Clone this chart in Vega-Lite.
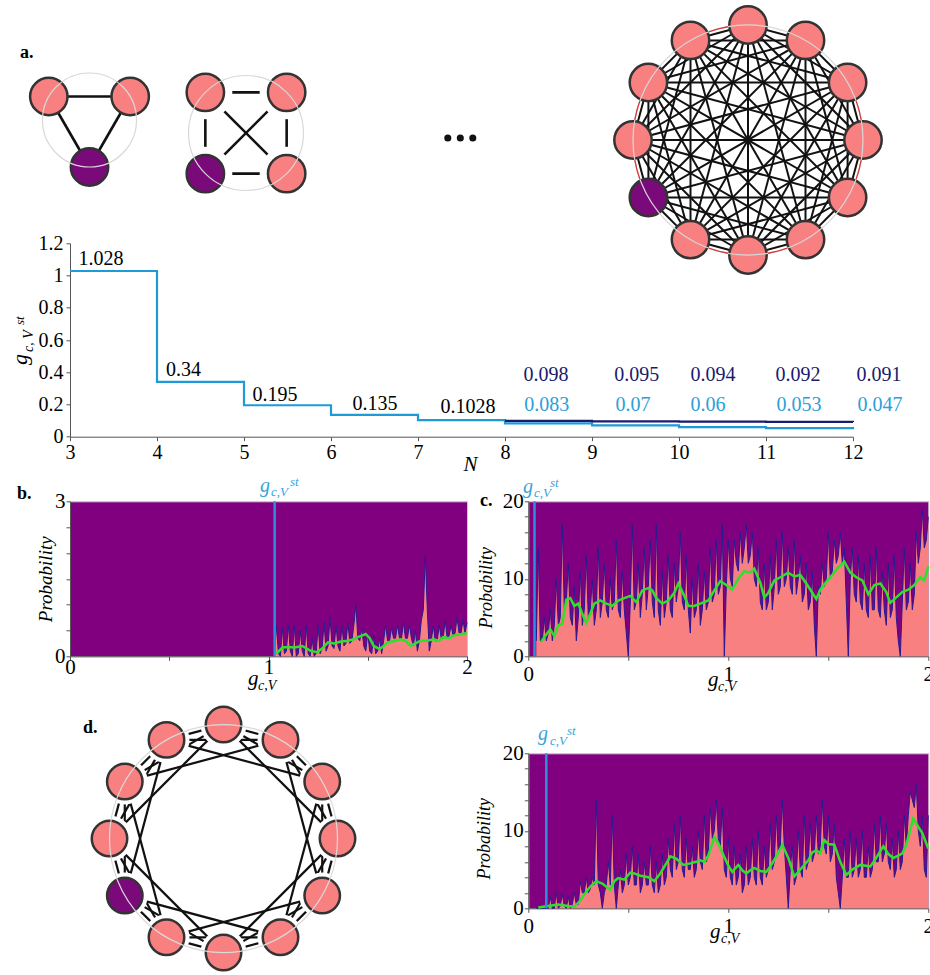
{
"$schema":"https://vega.github.io/schema/vega-lite/v6.json",
"autosize":{"type":"none"},
"padding":{"left":70,"top":243.3,"right":860,"bottom":731.7},
"config":{"view":{"strokeWidth":0},"font":"Liberation Serif","text":{"font":"Liberation Serif"},
"axis":{"grid":false,"labelFont":"Liberation Serif","titleFont":"Liberation Serif","labelColor":"#000","titleColor":"#000","domainColor":"#555","tickColor":"#555","tickSize":4,"labelFontSize":21,"titleFontWeight":"normal","titleFontStyle":"italic","labelOverlap":false,"labelFlush":false,"zindex":1,"tickCount":100}},
"datasets":{
"triN":[{"id":0,"x":0,"y":-1,"c":"purple"},{"id":1,"x":-0.866,"y":0.5,"c":"pink"},{"id":2,"x":0.866,"y":0.5,"c":"pink"}],
"triE":[{"s":0,"t":1},{"s":0,"t":2},{"s":1,"t":2}],
"sqN":[{"id":0,"x":-0.7071,"y":-0.7071,"c":"purple"},{"id":1,"x":-0.7071,"y":0.7071,"c":"pink"},{"id":2,"x":0.7071,"y":0.7071,"c":"pink"},{"id":3,"x":0.7071,"y":-0.7071,"c":"pink"}],
"sqE":[{"s":0,"t":1},{"s":0,"t":2},{"s":0,"t":3},{"s":1,"t":2},{"s":1,"t":3},{"s":2,"t":3}],
"n12":[{"id":0,"x":1,"y":0,"c":"pink"},{"id":1,"x":0.866,"y":0.5,"c":"pink"},{"id":2,"x":0.5,"y":0.866,"c":"pink"},{"id":3,"x":0,"y":1,"c":"pink"},{"id":4,"x":-0.5,"y":0.866,"c":"pink"},{"id":5,"x":-0.866,"y":0.5,"c":"pink"},{"id":6,"x":-1,"y":0,"c":"pink"},{"id":7,"x":-0.866,"y":-0.5,"c":"purple"},{"id":8,"x":-0.5,"y":-0.866,"c":"pink"},{"id":9,"x":0,"y":-1,"c":"pink"},{"id":10,"x":0.5,"y":-0.866,"c":"pink"},{"id":11,"x":0.866,"y":-0.5,"c":"pink"}],
"k12E":[{"s":0,"t":[1,2,3,4,5,6,7,8,9,10,11]},{"s":1,"t":[2,3,4,5,6,7,8,9,10,11]},{"s":2,"t":[3,4,5,6,7,8,9,10,11]},{"s":3,"t":[4,5,6,7,8,9,10,11]},{"s":4,"t":[5,6,7,8,9,10,11]},{"s":5,"t":[6,7,8,9,10,11]},{"s":6,"t":[7,8,9,10,11]},{"s":7,"t":[8,9,10,11]},{"s":8,"t":[9,10,11]},{"s":9,"t":[10,11]},{"s":10,"t":[11]}],
"c12E":[{"s":0,"t":[1,2,3]},{"s":1,"t":[2,3,4]},{"s":2,"t":[3,4,5]},{"s":3,"t":[4,5,6]},{"s":4,"t":[5,6,7]},{"s":5,"t":[6,7,8]},{"s":6,"t":[7,8,9]},{"s":7,"t":[8,9,10]},{"s":8,"t":[9,10,11]},{"s":9,"t":[10,11,0]},{"s":10,"t":[11,0,1]},{"s":11,"t":[0,1,2]}],
"histB":[{"g":1.03,"p":0},{"g":1.04,"p":0.6},{"g":1.05,"p":0.05},{"g":1.06,"p":0},{"g":1.07,"p":0.55},{"g":1.08,"p":0.05},{"g":1.09,"p":0.1},{"g":1.1,"p":0.6},{"g":1.11,"p":0.1},{"g":1.12,"p":0},{"g":1.13,"p":0.6},{"g":1.14,"p":0},{"g":1.15,"p":0.05},{"g":1.16,"p":0.5},{"g":1.17,"p":0.1},{"g":1.18,"p":0},{"g":1.19,"p":0.6},{"g":1.2,"p":0.05},{"g":1.21,"p":0},{"g":1.22,"p":0.35},{"g":1.23,"p":0},{"g":1.24,"p":0.05},{"g":1.25,"p":0.6},{"g":1.26,"p":0.05},{"g":1.27,"p":0.15},{"g":1.28,"p":0.65},{"g":1.29,"p":0.1},{"g":1.3,"p":0.2},{"g":1.31,"p":0.75},{"g":1.32,"p":0.2},{"g":1.33,"p":0.15},{"g":1.34,"p":0.6},{"g":1.35,"p":0.2},{"g":1.36,"p":0.1},{"g":1.37,"p":0.6},{"g":1.38,"p":0.2},{"g":1.39,"p":0.25},{"g":1.4,"p":0.65},{"g":1.41,"p":0.25},{"g":1.42,"p":0.3},{"g":1.43,"p":0.6},{"g":1.44,"p":1.0},{"g":1.45,"p":0.35},{"g":1.46,"p":0.3},{"g":1.47,"p":0.55},{"g":1.48,"p":0.2},{"g":1.49,"p":0.1},{"g":1.5,"p":0.45},{"g":1.51,"p":0.1},{"g":1.52,"p":0.05},{"g":1.53,"p":0.4},{"g":1.54,"p":0.05},{"g":1.55,"p":0.1},{"g":1.56,"p":0.35},{"g":1.57,"p":0.05},{"g":1.58,"p":0.3},{"g":1.59,"p":0.6},{"g":1.6,"p":0.3},{"g":1.61,"p":0.3},{"g":1.62,"p":0.55},{"g":1.63,"p":0.35},{"g":1.64,"p":0.35},{"g":1.65,"p":0.6},{"g":1.66,"p":0.35},{"g":1.67,"p":0.35},{"g":1.68,"p":0.65},{"g":1.69,"p":0.35},{"g":1.7,"p":0.35},{"g":1.71,"p":0.6},{"g":1.72,"p":0.35},{"g":1.73,"p":0.2},{"g":1.74,"p":0.5},{"g":1.75,"p":0.1},{"g":1.76,"p":0.3},{"g":1.77,"p":0.7},{"g":1.78,"p":0.9},{"g":1.79,"p":1.95},{"g":1.8,"p":0.9},{"g":1.81,"p":0.1},{"g":1.82,"p":0.3},{"g":1.83,"p":0.6},{"g":1.84,"p":0.3},{"g":1.85,"p":0.3},{"g":1.86,"p":0.6},{"g":1.87,"p":0.35},{"g":1.88,"p":0.35},{"g":1.89,"p":0.7},{"g":1.9,"p":0.35},{"g":1.91,"p":0.4},{"g":1.92,"p":0.6},{"g":1.93,"p":0.4},{"g":1.94,"p":0.45},{"g":1.95,"p":0.75},{"g":1.96,"p":0.45},{"g":1.97,"p":0.45},{"g":1.98,"p":0.7},{"g":1.99,"p":0.45},{"g":2.0,"p":0.65}],
"histC":[{"g":0.04,"p":2},{"g":0.05,"p":14},{"g":0.06,"p":2},{"g":0.07,"p":2},{"g":0.08,"p":5},{"g":0.09,"p":2},{"g":0.1,"p":3},{"g":0.11,"p":6},{"g":0.12,"p":2},{"g":0.13,"p":4},{"g":0.14,"p":10},{"g":0.15,"p":4},{"g":0.16,"p":5},{"g":0.17,"p":17},{"g":0.18,"p":6},{"g":0.19,"p":7},{"g":0.2,"p":12},{"g":0.21,"p":5},{"g":0.22,"p":4},{"g":0.23,"p":9},{"g":0.24,"p":2},{"g":0.25,"p":5},{"g":0.26,"p":11},{"g":0.27,"p":4},{"g":0.28,"p":6},{"g":0.29,"p":13},{"g":0.3,"p":5},{"g":0.31,"p":6},{"g":0.32,"p":10},{"g":0.33,"p":4},{"g":0.34,"p":6},{"g":0.35,"p":14},{"g":0.36,"p":5},{"g":0.37,"p":7},{"g":0.38,"p":12},{"g":0.39,"p":6},{"g":0.4,"p":5},{"g":0.41,"p":10},{"g":0.42,"p":6},{"g":0.43,"p":7},{"g":0.44,"p":15},{"g":0.45,"p":6},{"g":0.46,"p":5},{"g":0.47,"p":11},{"g":0.48,"p":6},{"g":0.49,"p":3},{"g":0.5,"p":0},{"g":0.51,"p":7},{"g":0.52,"p":17},{"g":0.53,"p":6},{"g":0.54,"p":7},{"g":0.55,"p":12},{"g":0.56,"p":5},{"g":0.57,"p":8},{"g":0.58,"p":14},{"g":0.59,"p":6},{"g":0.6,"p":9},{"g":0.61,"p":15},{"g":0.62,"p":7},{"g":0.63,"p":5},{"g":0.64,"p":17},{"g":0.65,"p":6},{"g":0.66,"p":4},{"g":0.67,"p":11},{"g":0.68,"p":5},{"g":0.69,"p":7},{"g":0.7,"p":13},{"g":0.71,"p":6},{"g":0.72,"p":5},{"g":0.73,"p":12},{"g":0.74,"p":7},{"g":0.75,"p":9},{"g":0.76,"p":16},{"g":0.77,"p":7},{"g":0.78,"p":6},{"g":0.79,"p":13},{"g":0.8,"p":6},{"g":0.81,"p":3},{"g":0.82,"p":10},{"g":0.83,"p":5},{"g":0.84,"p":6},{"g":0.85,"p":12},{"g":0.86,"p":4},{"g":0.87,"p":6},{"g":0.88,"p":11},{"g":0.89,"p":6},{"g":0.9,"p":7},{"g":0.91,"p":14},{"g":0.92,"p":7},{"g":0.93,"p":8},{"g":0.94,"p":15},{"g":0.95,"p":8},{"g":0.96,"p":9},{"g":0.97,"p":17},{"g":0.98,"p":0},{"g":0.99,"p":9},{"g":1.0,"p":15},{"g":1.01,"p":10},{"g":1.02,"p":9},{"g":1.03,"p":15},{"g":1.04,"p":12},{"g":1.05,"p":11},{"g":1.06,"p":16},{"g":1.07,"p":12},{"g":1.08,"p":14},{"g":1.09,"p":17},{"g":1.1,"p":12},{"g":1.11,"p":13},{"g":1.12,"p":16},{"g":1.13,"p":10},{"g":1.14,"p":9},{"g":1.15,"p":14},{"g":1.16,"p":7},{"g":1.17,"p":6},{"g":1.18,"p":12},{"g":1.19,"p":6},{"g":1.2,"p":7},{"g":1.21,"p":13},{"g":1.22,"p":6},{"g":1.23,"p":9},{"g":1.24,"p":15},{"g":1.25,"p":8},{"g":1.26,"p":9},{"g":1.27,"p":16},{"g":1.28,"p":9},{"g":1.29,"p":10},{"g":1.3,"p":14},{"g":1.31,"p":9},{"g":1.32,"p":8},{"g":1.33,"p":15},{"g":1.34,"p":8},{"g":1.35,"p":10},{"g":1.36,"p":13},{"g":1.37,"p":7},{"g":1.38,"p":8},{"g":1.39,"p":12},{"g":1.4,"p":6},{"g":1.41,"p":7},{"g":1.42,"p":11},{"g":1.43,"p":4},{"g":1.44,"p":0},{"g":1.45,"p":9},{"g":1.46,"p":8},{"g":1.47,"p":12},{"g":1.48,"p":9},{"g":1.49,"p":10},{"g":1.5,"p":16},{"g":1.51,"p":10},{"g":1.52,"p":11},{"g":1.53,"p":15},{"g":1.54,"p":12},{"g":1.55,"p":13},{"g":1.56,"p":16},{"g":1.57,"p":12},{"g":1.58,"p":14},{"g":1.59,"p":7},{"g":1.6,"p":0},{"g":1.61,"p":10},{"g":1.62,"p":14},{"g":1.63,"p":8},{"g":1.64,"p":7},{"g":1.65,"p":13},{"g":1.66,"p":7},{"g":1.67,"p":6},{"g":1.68,"p":12},{"g":1.69,"p":6},{"g":1.7,"p":5},{"g":1.71,"p":13},{"g":1.72,"p":6},{"g":1.73,"p":6},{"g":1.74,"p":14},{"g":1.75,"p":6},{"g":1.76,"p":5},{"g":1.77,"p":11},{"g":1.78,"p":6},{"g":1.79,"p":4},{"g":1.8,"p":12},{"g":1.81,"p":5},{"g":1.82,"p":6},{"g":1.83,"p":13},{"g":1.84,"p":5},{"g":1.85,"p":2},{"g":1.86,"p":0},{"g":1.87,"p":7},{"g":1.88,"p":14},{"g":1.89,"p":6},{"g":1.9,"p":7},{"g":1.91,"p":12},{"g":1.92,"p":6},{"g":1.93,"p":8},{"g":1.94,"p":16},{"g":1.95,"p":12},{"g":1.96,"p":14},{"g":1.97,"p":19},{"g":1.98,"p":14},{"g":1.99,"p":15},{"g":2.0,"p":18}],
"histD":[{"g":0.04,"p":0},{"g":0.05,"p":0},{"g":0.06,"p":0},{"g":0.07,"p":0},{"g":0.08,"p":0},{"g":0.09,"p":0},{"g":0.1,"p":0},{"g":0.11,"p":1.5},{"g":0.12,"p":0},{"g":0.13,"p":0},{"g":0.14,"p":2},{"g":0.15,"p":0},{"g":0.16,"p":0.3},{"g":0.17,"p":1.8},{"g":0.18,"p":0.3},{"g":0.19,"p":0},{"g":0.2,"p":1.5},{"g":0.21,"p":0},{"g":0.22,"p":0.5},{"g":0.23,"p":2},{"g":0.24,"p":0.5},{"g":0.25,"p":0.5},{"g":0.26,"p":3.5},{"g":0.27,"p":2},{"g":0.28,"p":2},{"g":0.29,"p":4},{"g":0.3,"p":2},{"g":0.31,"p":2.5},{"g":0.32,"p":4},{"g":0.33,"p":3},{"g":0.34,"p":14},{"g":0.35,"p":3},{"g":0.36,"p":2},{"g":0.37,"p":0},{"g":0.38,"p":2},{"g":0.39,"p":3},{"g":0.4,"p":6},{"g":0.41,"p":3},{"g":0.42,"p":12},{"g":0.43,"p":3},{"g":0.44,"p":0},{"g":0.45,"p":3},{"g":0.46,"p":5},{"g":0.47,"p":2},{"g":0.48,"p":3},{"g":0.49,"p":7},{"g":0.5,"p":3},{"g":0.51,"p":4},{"g":0.52,"p":8},{"g":0.53,"p":3},{"g":0.54,"p":3},{"g":0.55,"p":7},{"g":0.56,"p":2},{"g":0.57,"p":3},{"g":0.58,"p":6},{"g":0.59,"p":3},{"g":0.6,"p":3},{"g":0.61,"p":8},{"g":0.62,"p":3},{"g":0.63,"p":2},{"g":0.64,"p":6},{"g":0.65,"p":2},{"g":0.66,"p":3},{"g":0.67,"p":7},{"g":0.68,"p":3},{"g":0.69,"p":4},{"g":0.7,"p":9},{"g":0.71,"p":5},{"g":0.72,"p":4},{"g":0.73,"p":11},{"g":0.74,"p":5},{"g":0.75,"p":6},{"g":0.76,"p":12},{"g":0.77,"p":5},{"g":0.78,"p":4},{"g":0.79,"p":9},{"g":0.8,"p":5},{"g":0.81,"p":5},{"g":0.82,"p":8},{"g":0.83,"p":4},{"g":0.84,"p":5},{"g":0.85,"p":10},{"g":0.86,"p":6},{"g":0.87,"p":5},{"g":0.88,"p":12},{"g":0.89,"p":6},{"g":0.9,"p":7},{"g":0.91,"p":13},{"g":0.92,"p":9},{"g":0.93,"p":10},{"g":0.94,"p":14},{"g":0.95,"p":9},{"g":0.96,"p":8},{"g":0.97,"p":13},{"g":0.98,"p":5},{"g":0.99,"p":4},{"g":1.0,"p":9},{"g":1.01,"p":4},{"g":1.02,"p":3},{"g":1.03,"p":8},{"g":1.04,"p":3},{"g":1.05,"p":4},{"g":1.06,"p":7},{"g":1.07,"p":2},{"g":1.08,"p":3},{"g":1.09,"p":8},{"g":1.1,"p":3},{"g":1.11,"p":4},{"g":1.12,"p":9},{"g":1.13,"p":4},{"g":1.14,"p":3},{"g":1.15,"p":10},{"g":1.16,"p":4},{"g":1.17,"p":3},{"g":1.18,"p":8},{"g":1.19,"p":4},{"g":1.2,"p":5},{"g":1.21,"p":11},{"g":1.22,"p":5},{"g":1.23,"p":6},{"g":1.24,"p":12},{"g":1.25,"p":7},{"g":1.26,"p":8},{"g":1.27,"p":14},{"g":1.28,"p":8},{"g":1.29,"p":4},{"g":1.3,"p":0},{"g":1.31,"p":5},{"g":1.32,"p":8},{"g":1.33,"p":3},{"g":1.34,"p":4},{"g":1.35,"p":10},{"g":1.36,"p":5},{"g":1.37,"p":4},{"g":1.38,"p":12},{"g":1.39,"p":5},{"g":1.4,"p":6},{"g":1.41,"p":11},{"g":1.42,"p":6},{"g":1.43,"p":7},{"g":1.44,"p":12},{"g":1.45,"p":7},{"g":1.46,"p":8},{"g":1.47,"p":14},{"g":1.48,"p":8},{"g":1.49,"p":7},{"g":1.5,"p":12},{"g":1.51,"p":6},{"g":1.52,"p":7},{"g":1.53,"p":11},{"g":1.54,"p":4},{"g":1.55,"p":2},{"g":1.56,"p":0},{"g":1.57,"p":4},{"g":1.58,"p":9},{"g":1.59,"p":4},{"g":1.6,"p":4},{"g":1.61,"p":10},{"g":1.62,"p":4},{"g":1.63,"p":5},{"g":1.64,"p":9},{"g":1.65,"p":4},{"g":1.66,"p":5},{"g":1.67,"p":10},{"g":1.68,"p":4},{"g":1.69,"p":4},{"g":1.7,"p":8},{"g":1.71,"p":4},{"g":1.72,"p":5},{"g":1.73,"p":11},{"g":1.74,"p":6},{"g":1.75,"p":6},{"g":1.76,"p":12},{"g":1.77,"p":6},{"g":1.78,"p":7},{"g":1.79,"p":11},{"g":1.8,"p":6},{"g":1.81,"p":5},{"g":1.82,"p":9},{"g":1.83,"p":4},{"g":1.84,"p":5},{"g":1.85,"p":10},{"g":1.86,"p":5},{"g":1.87,"p":6},{"g":1.88,"p":12},{"g":1.89,"p":8},{"g":1.9,"p":12},{"g":1.91,"p":15},{"g":1.92,"p":14},{"g":1.93,"p":13},{"g":1.94,"p":16},{"g":1.95,"p":10},{"g":1.96,"p":8},{"g":1.97,"p":12},{"g":1.98,"p":5},{"g":1.99,"p":4},{"g":2.0,"p":12}],
"grB":[{"g":1.04,"p":0.05},{"g":1.07,"p":0.17},{"g":1.1,"p":0.18},{"g":1.13,"p":0.17},{"g":1.17,"p":0.2},{"g":1.21,"p":0.11},{"g":1.245,"p":0.08},{"g":1.27,"p":0.15},{"g":1.3,"p":0.27},{"g":1.33,"p":0.25},{"g":1.36,"p":0.28},{"g":1.4,"p":0.3},{"g":1.43,"p":0.33},{"g":1.45,"p":0.37},{"g":1.47,"p":0.4},{"g":1.49,"p":0.43},{"g":1.51,"p":0.35},{"g":1.53,"p":0.2},{"g":1.56,"p":0.14},{"g":1.58,"p":0.2},{"g":1.6,"p":0.27},{"g":1.64,"p":0.3},{"g":1.665,"p":0.33},{"g":1.69,"p":0.3},{"g":1.715,"p":0.2},{"g":1.74,"p":0.25},{"g":1.765,"p":0.3},{"g":1.8,"p":0.3},{"g":1.83,"p":0.33},{"g":1.86,"p":0.3},{"g":1.88,"p":0.37},{"g":1.91,"p":0.35},{"g":1.93,"p":0.4},{"g":1.96,"p":0.42},{"g":2.0,"p":0.45}],
"grC":[{"g":0.065,"p":1.9},{"g":0.09,"p":2.8},{"g":0.11,"p":3.5},{"g":0.13,"p":2.6},{"g":0.15,"p":4},{"g":0.17,"p":4.2},{"g":0.19,"p":7.3},{"g":0.21,"p":7.5},{"g":0.23,"p":6.5},{"g":0.25,"p":6.8},{"g":0.27,"p":5.5},{"g":0.29,"p":4.3},{"g":0.31,"p":5.5},{"g":0.33,"p":6.8},{"g":0.36,"p":7.2},{"g":0.39,"p":6.8},{"g":0.42,"p":6.5},{"g":0.45,"p":7.2},{"g":0.48,"p":7.5},{"g":0.51,"p":7.8},{"g":0.54,"p":7},{"g":0.57,"p":8.5},{"g":0.6,"p":8.8},{"g":0.62,"p":8.5},{"g":0.64,"p":7.5},{"g":0.67,"p":6.8},{"g":0.7,"p":7.2},{"g":0.73,"p":8.2},{"g":0.75,"p":9.4},{"g":0.78,"p":7.8},{"g":0.8,"p":6.5},{"g":0.83,"p":6.5},{"g":0.86,"p":6.8},{"g":0.9,"p":7.2},{"g":0.93,"p":8.5},{"g":0.96,"p":9.7},{"g":0.99,"p":9.2},{"g":1.02,"p":8.6},{"g":1.05,"p":10},{"g":1.08,"p":11},{"g":1.11,"p":10.8},{"g":1.13,"p":11.3},{"g":1.16,"p":9.5},{"g":1.18,"p":7.6},{"g":1.2,"p":8.2},{"g":1.23,"p":9.8},{"g":1.26,"p":10.2},{"g":1.3,"p":10.8},{"g":1.33,"p":10.3},{"g":1.36,"p":10.5},{"g":1.39,"p":9.4},{"g":1.42,"p":8.2},{"g":1.44,"p":7.4},{"g":1.46,"p":8.6},{"g":1.49,"p":9.6},{"g":1.52,"p":10.5},{"g":1.55,"p":11.5},{"g":1.58,"p":12.2},{"g":1.61,"p":10.8},{"g":1.64,"p":10.2},{"g":1.67,"p":9.8},{"g":1.7,"p":8},{"g":1.73,"p":9.2},{"g":1.76,"p":9.4},{"g":1.79,"p":8.3},{"g":1.81,"p":6.9},{"g":1.84,"p":7.6},{"g":1.87,"p":8.3},{"g":1.9,"p":8.6},{"g":1.93,"p":9.2},{"g":1.96,"p":10.2},{"g":1.98,"p":9.8},{"g":2.0,"p":11.6}],
"grD":[{"g":0.05,"p":0.1},{"g":0.1,"p":0.3},{"g":0.15,"p":0.5},{"g":0.175,"p":0.4},{"g":0.2,"p":0.3},{"g":0.23,"p":0.2},{"g":0.26,"p":1},{"g":0.28,"p":1.8},{"g":0.31,"p":2.8},{"g":0.34,"p":3.5},{"g":0.37,"p":3.2},{"g":0.41,"p":2.4},{"g":0.43,"p":3.5},{"g":0.45,"p":3.9},{"g":0.48,"p":3.7},{"g":0.51,"p":4.6},{"g":0.53,"p":4.5},{"g":0.56,"p":4.2},{"g":0.6,"p":4},{"g":0.63,"p":3.5},{"g":0.66,"p":4.5},{"g":0.69,"p":5.8},{"g":0.71,"p":6.7},{"g":0.74,"p":6.4},{"g":0.775,"p":5.6},{"g":0.81,"p":5.8},{"g":0.84,"p":6},{"g":0.86,"p":6.2},{"g":0.88,"p":6},{"g":0.9,"p":6.8},{"g":0.93,"p":9.2},{"g":0.95,"p":8.4},{"g":0.975,"p":6.9},{"g":1.0,"p":5.5},{"g":1.02,"p":4.7},{"g":1.05,"p":5.6},{"g":1.07,"p":4.9},{"g":1.09,"p":4.5},{"g":1.11,"p":4.9},{"g":1.13,"p":5.2},{"g":1.16,"p":4.8},{"g":1.19,"p":4.7},{"g":1.22,"p":5.8},{"g":1.25,"p":7.2},{"g":1.27,"p":8.2},{"g":1.3,"p":6.5},{"g":1.33,"p":4.1},{"g":1.36,"p":5},{"g":1.4,"p":6.2},{"g":1.42,"p":7.2},{"g":1.44,"p":7.5},{"g":1.46,"p":7.1},{"g":1.48,"p":8.8},{"g":1.5,"p":8.3},{"g":1.53,"p":8.2},{"g":1.56,"p":6},{"g":1.59,"p":4.3},{"g":1.62,"p":5},{"g":1.66,"p":5.6},{"g":1.71,"p":5.4},{"g":1.74,"p":6.5},{"g":1.775,"p":8},{"g":1.8,"p":7},{"g":1.825,"p":6.5},{"g":1.85,"p":6.8},{"g":1.87,"p":7.1},{"g":1.89,"p":8.2},{"g":1.925,"p":11.6},{"g":1.95,"p":10.5},{"g":1.97,"p":9.7},{"g":2.0,"p":7.7}]
},
"concat":[
{"width":397,"height":193.4,
 "resolve":{"scale":{"x":"independent","y":"independent"}},
 "layer":[
  {"layer":[
   {"data":{"values":[{"N":3,"v":1.028},{"N":4,"v":0.34},{"N":5,"v":0.195},{"N":6,"v":0.135},{"N":7,"v":0.1028},{"N":8,"v":0.083},{"N":9,"v":0.07},{"N":10,"v":0.06},{"N":11,"v":0.053},{"N":12,"v":0.047}]},
    "mark":{"type":"line","interpolate":"step-after","color":"#1E9BD7","strokeWidth":2.2},
    "encoding":{"x":{"field":"N","type":"quantitative","scale":{"domain":[3,12],"range":[0,783],"nice":false,"zero":false},"axis":{"values":[3,4,5,6,7,8,9,10,11,12],"tickCount":100,"format":"d","labelOverlap":false,"title":"N","titleFontSize":21,"titleX":400,"titleY":33.3,"titleBaseline":"alphabetic","titleAlign":"center","labelFontSize":20,"labelPadding":2}},
     "y":{"field":"v","type":"quantitative","scale":{"domain":[0,1.2],"nice":false,"zero":false},"axis":{"values":[0,0.2,0.4,0.6,0.8,1,1.2],"tickCount":100,"format":"~g","labelOverlap":false,"title":null,"labelFontSize":20,"labelPadding":3}}}},
   {"data":{"values":[{"N":8,"v":0.098},{"N":9,"v":0.095},{"N":10,"v":0.094},{"N":11,"v":0.092},{"N":12,"v":0.091}]},
    "mark":{"type":"line","interpolate":"step-after","color":"#1A1A6E","strokeWidth":2.2},
    "encoding":{"x":{"field":"N","type":"quantitative"},"y":{"field":"v","type":"quantitative"}}},
   {"data":{"values":[{}]},"mark":{"type":"text","text":"1.028","fontSize":20,"align":"center","baseline":"alphabetic","dy":-6,"color":"#000"},"encoding":{"x":{"datum":3.356,"type":"quantitative"},"y":{"datum":1.028,"type":"quantitative"}}},
   {"data":{"values":[{}]},"mark":{"type":"text","text":"0.34","fontSize":20,"align":"center","baseline":"alphabetic","dy":-6,"color":"#000"},"encoding":{"x":{"datum":4.305,"type":"quantitative"},"y":{"datum":0.34,"type":"quantitative"}}},
   {"data":{"values":[{}]},"mark":{"type":"text","text":"0.195","fontSize":20,"align":"center","baseline":"alphabetic","dy":-4,"color":"#000"},"encoding":{"x":{"datum":5.356,"type":"quantitative"},"y":{"datum":0.195,"type":"quantitative"}}},
   {"data":{"values":[{}]},"mark":{"type":"text","text":"0.135","fontSize":20,"align":"center","baseline":"alphabetic","dy":-5,"color":"#000"},"encoding":{"x":{"datum":6.506,"type":"quantitative"},"y":{"datum":0.135,"type":"quantitative"}}},
   {"data":{"values":[{}]},"mark":{"type":"text","text":"0.1028","fontSize":20,"align":"center","baseline":"alphabetic","dy":-7,"color":"#000"},"encoding":{"x":{"datum":7.575,"type":"quantitative"},"y":{"datum":0.1028,"type":"quantitative"}}},
   {"data":{"values":[{}]},"mark":{"type":"text","text":"0.098","fontSize":20,"align":"center","baseline":"middle","color":"#1A1A6E"},"encoding":{"x":{"datum":8.471,"type":"quantitative"},"y":{"datum":0.383,"type":"quantitative"}}},
   {"data":{"values":[{}]},"mark":{"type":"text","text":"0.095","fontSize":20,"align":"center","baseline":"middle","color":"#1A1A6E"},"encoding":{"x":{"datum":9.514,"type":"quantitative"},"y":{"datum":0.383,"type":"quantitative"}}},
   {"data":{"values":[{}]},"mark":{"type":"text","text":"0.094","fontSize":20,"align":"center","baseline":"middle","color":"#1A1A6E"},"encoding":{"x":{"datum":10.391,"type":"quantitative"},"y":{"datum":0.383,"type":"quantitative"}}},
   {"data":{"values":[{}]},"mark":{"type":"text","text":"0.092","fontSize":20,"align":"center","baseline":"middle","color":"#1A1A6E"},"encoding":{"x":{"datum":11.368,"type":"quantitative"},"y":{"datum":0.383,"type":"quantitative"}}},
   {"data":{"values":[{}]},"mark":{"type":"text","text":"0.091","fontSize":20,"align":"center","baseline":"middle","color":"#1A1A6E"},"encoding":{"x":{"datum":12.299,"type":"quantitative"},"y":{"datum":0.383,"type":"quantitative"}}},
   {"data":{"values":[{}]},"mark":{"type":"text","text":"0.083","fontSize":20,"align":"center","baseline":"middle","color":"#2BA0D8"},"encoding":{"x":{"datum":8.479,"type":"quantitative"},"y":{"datum":0.1936,"type":"quantitative"}}},
   {"data":{"values":[{}]},"mark":{"type":"text","text":"0.07","fontSize":20,"align":"center","baseline":"middle","color":"#2BA0D8"},"encoding":{"x":{"datum":9.471,"type":"quantitative"},"y":{"datum":0.1936,"type":"quantitative"}}},
   {"data":{"values":[{}]},"mark":{"type":"text","text":"0.06","fontSize":20,"align":"center","baseline":"middle","color":"#2BA0D8"},"encoding":{"x":{"datum":10.333,"type":"quantitative"},"y":{"datum":0.1936,"type":"quantitative"}}},
   {"data":{"values":[{}]},"mark":{"type":"text","text":"0.053","fontSize":20,"align":"center","baseline":"middle","color":"#2BA0D8"},"encoding":{"x":{"datum":11.379,"type":"quantitative"},"y":{"datum":0.1936,"type":"quantitative"}}},
   {"data":{"values":[{}]},"mark":{"type":"text","text":"0.047","fontSize":20,"align":"center","baseline":"middle","color":"#2BA0D8"},"encoding":{"x":{"datum":12.31,"type":"quantitative"},"y":{"datum":0.1936,"type":"quantitative"}}},
   {"data":{"values":[{}]},"mark":{"type":"text","text":"g","fontSize":22,"fontStyle":"italic","angle":270,"align":"left","baseline":"alphabetic","color":"#000"},"encoding":{"x":{"datum":2.5,"type":"quantitative"},"y":{"datum":0.445,"type":"quantitative"}}},
   {"data":{"values":[{}]},"mark":{"type":"text","text":"c, V","fontSize":14,"fontStyle":"italic","angle":270,"align":"left","baseline":"alphabetic","color":"#000"},"encoding":{"x":{"datum":2.575,"type":"quantitative"},"y":{"datum":0.525,"type":"quantitative"}}},
   {"data":{"values":[{}]},"mark":{"type":"text","text":"st","fontSize":13,"fontStyle":"italic","angle":270,"align":"left","baseline":"alphabetic","color":"#000"},"encoding":{"x":{"datum":2.471,"type":"quantitative"},"y":{"datum":0.693,"type":"quantitative"}}}
  ]},
  {"layer":[
   {"data":{"name":"triE"},"transform":[{"lookup":"s","from":{"data":{"name":"triN"},"key":"id","fields":["x","y"]},"as":["x1","y1"]},{"lookup":"t","from":{"data":{"name":"triN"},"key":"id","fields":["x","y"]},"as":["x2","y2"]}],
    "mark":{"type":"rule","color":"#111","strokeWidth":2.6},
    "encoding":{"x":{"field":"x1","type":"quantitative","scale":{"domain":[-0.414894,16.244681],"range":[0,783],"nice":false,"zero":false},"axis":null},"y":{"field":"y1","type":"quantitative","scale":{"domain":[-6.738298,-2.623404],"nice":false,"zero":false},"axis":null},"x2":{"field":"x2"},"y2":{"field":"y2"}}},
   {"data":{"name":"triN"},"mark":{"type":"point","shape":"circle","filled":true,"size":1400,"stroke":"#333","strokeWidth":2.5,"opacity":1},
    "encoding":{"x":{"field":"x","type":"quantitative","scale":{"domain":[-0.414894,16.244681],"range":[0,783],"nice":false,"zero":false},"axis":null},"y":{"field":"y","type":"quantitative","scale":{"domain":[-6.738298,-2.623404],"nice":false,"zero":false},"axis":null},"fill":{"field":"c","type":"nominal","scale":{"domain":["pink","purple"],"range":["#F88080","#7A0A7A"]},"legend":null}}},
   {"data":{"values":[{"x":0,"y":0}]},"mark":{"type":"point","shape":"circle","filled":false,"size":8836,"stroke":"#d8d8d8","strokeWidth":1.2,"opacity":1},
    "encoding":{"x":{"field":"x","type":"quantitative","scale":{"domain":[-0.414894,16.244681],"range":[0,783],"nice":false,"zero":false},"axis":null},"y":{"field":"y","type":"quantitative","scale":{"domain":[-6.738298,-2.623404],"nice":false,"zero":false},"axis":null}}},
   {"data":{"values":[{}]},"mark":{"type":"text","text":"a.","fontSize":18,"fontWeight":"bold","align":"left","baseline":"alphabetic","color":"#000"},
    "encoding":{"x":{"datum":-1.4787,"type":"quantitative","scale":{"domain":[-0.414894,16.244681],"range":[0,783],"nice":false,"zero":false},"axis":null},"y":{"datum":1.319,"type":"quantitative","scale":{"domain":[-6.738298,-2.623404],"nice":false,"zero":false},"axis":null}}}
  ]},
  {"layer":[
   {"data":{"name":"sqE"},"transform":[{"lookup":"s","from":{"data":{"name":"sqN"},"key":"id","fields":["x","y"]},"as":["x1","y1"]},{"lookup":"t","from":{"data":{"name":"sqN"},"key":"id","fields":["x","y"]},"as":["x2","y2"]}],
    "mark":{"type":"rule","color":"#111","strokeWidth":2.6},
    "encoding":{"x":{"field":"x1","type":"quantitative","scale":{"domain":[-3.06087,10.556522],"range":[0,783],"nice":false,"zero":false},"axis":null},"y":{"field":"y1","type":"quantitative","scale":{"domain":[-5.281739,-1.918261],"nice":false,"zero":false},"axis":null},"x2":{"field":"x2"},"y2":{"field":"y2"}}},
   {"data":{"name":"sqN"},"mark":{"type":"point","shape":"circle","filled":true,"color":"#ffffff","size":2916,"strokeWidth":0,"opacity":1},
    "encoding":{"x":{"field":"x","type":"quantitative","scale":{"domain":[-3.06087,10.556522],"range":[0,783],"nice":false,"zero":false},"axis":null},"y":{"field":"y","type":"quantitative","scale":{"domain":[-5.281739,-1.918261],"nice":false,"zero":false},"axis":null}}},
   {"data":{"name":"sqN"},"mark":{"type":"point","shape":"circle","filled":true,"size":1400,"stroke":"#333","strokeWidth":2.5,"opacity":1},
    "encoding":{"x":{"field":"x","type":"quantitative","scale":{"domain":[-3.06087,10.556522],"range":[0,783],"nice":false,"zero":false},"axis":null},"y":{"field":"y","type":"quantitative","scale":{"domain":[-5.281739,-1.918261],"nice":false,"zero":false},"axis":null},"fill":{"field":"c","type":"nominal","scale":{"domain":["pink","purple"],"range":["#F88080","#7A0A7A"]},"legend":null}}},
   {"data":{"values":[{"x":0,"y":0}]},"mark":{"type":"point","shape":"circle","filled":false,"size":13225,"stroke":"#d8d8d8","strokeWidth":1.2,"opacity":1},
    "encoding":{"x":{"field":"x","type":"quantitative","scale":{"domain":[-3.06087,10.556522],"range":[0,783],"nice":false,"zero":false},"axis":null},"y":{"field":"y","type":"quantitative","scale":{"domain":[-5.281739,-1.918261],"nice":false,"zero":false},"axis":null}}}
  ]},
  {"data":{"values":[{"x":-1,"y":0},{"x":0,"y":0},{"x":1,"y":0}]},"mark":{"type":"point","shape":"circle","filled":true,"color":"#111","size":50,"opacity":1},
   "encoding":{"x":{"field":"x","type":"quantitative","scale":{"domain":[-31.224,31.416],"range":[0,783],"nice":false,"zero":false},"axis":null},"y":{"field":"y","type":"quantitative","scale":{"domain":[-23.896,-8.424],"nice":false,"zero":false},"axis":null}}},
  {"layer":[
   {"data":{"name":"k12E"},"transform":[{"flatten":["t"]},{"lookup":"s","from":{"data":{"name":"n12"},"key":"id","fields":["x","y"]},"as":["x1","y1"]},{"lookup":"t","from":{"data":{"name":"n12"},"key":"id","fields":["x","y"]},"as":["x2","y2"]}],
    "mark":{"type":"rule","color":"#111","strokeWidth":2},
    "encoding":{"x":{"field":"x1","type":"quantitative","scale":{"domain":[-5.895652,0.913043],"range":[0,783],"nice":false,"zero":false},"axis":null},"y":{"field":"y1","type":"quantitative","scale":{"domain":[-2.58,-0.898261],"nice":false,"zero":false},"axis":null},"x2":{"field":"x2"},"y2":{"field":"y2"}}},
   {"data":{"name":"n12"},"mark":{"type":"point","shape":"circle","filled":true,"size":1400,"stroke":"#333","strokeWidth":2.5,"opacity":1},
    "encoding":{"x":{"field":"x","type":"quantitative","scale":{"domain":[-5.895652,0.913043],"range":[0,783],"nice":false,"zero":false},"axis":null},"y":{"field":"y","type":"quantitative","scale":{"domain":[-2.58,-0.898261],"nice":false,"zero":false},"axis":null},"fill":{"field":"c","type":"nominal","scale":{"domain":["pink","purple"],"range":["#F88080","#7A0A7A"]},"legend":null}}},
   {"data":{"values":[{"x":0,"y":0}]},"mark":{"type":"point","shape":"circle","filled":false,"size":52900,"stroke":"#d8d8d8","strokeWidth":1.2,"opacity":1},
    "encoding":{"x":{"field":"x","type":"quantitative","scale":{"domain":[-5.895652,0.913043],"range":[0,783],"nice":false,"zero":false},"axis":null},"y":{"field":"y","type":"quantitative","scale":{"domain":[-2.58,-0.898261],"nice":false,"zero":false},"axis":null}}},
   {"data":{"values":[{"x":0,"y":0}]},"mark":{"type":"point","shape":"M-0.1736,-0.9848L-0.2588,-0.9659L-0.342,-0.9397M-0.9397,-0.342L-0.9659,-0.2588L-0.9848,-0.1736M-0.9848,0.1736L-0.9659,0.2588L-0.9397,0.342M-0.342,0.9397L-0.2588,0.9659L-0.1736,0.9848M0.1736,0.9848L0.2588,0.9659L0.342,0.9397M0.9397,0.342L0.9659,0.2588L0.9848,0.1736M0.9848,-0.1736L0.9659,-0.2588L0.9397,-0.342","filled":false,"size":52900,"stroke":"#d43a3a","strokeWidth":1.3,"opacity":1},
    "encoding":{"x":{"field":"x","type":"quantitative","scale":{"domain":[-5.895652,0.913043],"range":[0,783],"nice":false,"zero":false},"axis":null},"y":{"field":"y","type":"quantitative","scale":{"domain":[-2.58,-0.898261],"nice":false,"zero":false},"axis":null}}}
  ]}
 ]},
{"width":1,"height":1,"data":{"values":[{}]},"mark":{"type":"text"},"encoding":{"text":{"value":""}}},
{"width":1,"height":63.3,"data":{"values":[{}]},"mark":{"type":"text"},"encoding":{"text":{"value":""}}},
{"width":1,"height":63.3,"data":{"values":[{}]},"mark":{"type":"text"},"encoding":{"text":{"value":""}}},
{"width":397,"height":155,"view":{"fill":"#800080","stroke":"#c8c8c8","strokeWidth":1},
 "layer":[
  {"data":{"name":"histB"},"mark":{"type":"area","color":"#F98080","opacity":1,"fillOpacity":1,"line":{"color":"#2A1890","strokeWidth":1}},
   "encoding":{"x":{"field":"g","type":"quantitative","scale":{"domain":[0,2],"nice":false,"zero":false},"axis":{"values":[0,0.5,1,1.5,2],"tickCount":100,"format":"~g","labelExpr":"datum.value % 1 === 0 ? datum.label : ''","title":null,"labelPadding":-4}},
    "y":{"field":"p","type":"quantitative","scale":{"domain":[0,3],"nice":false,"zero":false},"axis":{"values":[0,0.5,1,1.5,2,2.5,3],"tickCount":100,"format":"~g","labelExpr":"datum.value === 0 || datum.value === 3 ? datum.label : ''","title":"Probability","titleFontSize":19,"titleX":-15,"titleY":77.5,"titleBaseline":"bottom","titleAngle":270,"titleAlign":"center","labelPadding":1}}}},
  {"data":{"name":"grB"},"mark":{"type":"line","color":"#2EE02E","strokeWidth":2.5},"encoding":{"x":{"field":"g","type":"quantitative"},"y":{"field":"p","type":"quantitative"}}},
  {"data":{"values":[{}]},"mark":{"type":"rule","color":"#2B8FE0","strokeWidth":2.5},"encoding":{"x":{"datum":1.031,"type":"quantitative"}}},
  {"data":{"values":[{}]},"mark":{"type":"text","text":"b.","fontSize":18,"fontWeight":"bold","align":"left","baseline":"alphabetic","color":"#000"},"encoding":{"x":{"datum":-0.267,"type":"quantitative"},"y":{"datum":3.04,"type":"quantitative"}}},
  {"data":{"values":[{}]},"mark":{"type":"text","text":"g","fontSize":20,"fontStyle":"italic","align":"left","baseline":"alphabetic","color":"#3AA3DA"},"encoding":{"x":{"datum":0.957,"type":"quantitative"},"y":{"datum":3.174,"type":"quantitative"}}},
  {"data":{"values":[{}]},"mark":{"type":"text","text":"c,V","fontSize":13,"fontStyle":"italic","align":"left","baseline":"alphabetic","color":"#3AA3DA"},"encoding":{"x":{"datum":1.0126,"type":"quantitative"},"y":{"datum":3.097,"type":"quantitative"}}},
  {"data":{"values":[{}]},"mark":{"type":"text","text":"st","fontSize":13,"fontStyle":"italic","align":"left","baseline":"alphabetic","color":"#3AA3DA"},"encoding":{"x":{"datum":1.108,"type":"quantitative"},"y":{"datum":3.29,"type":"quantitative"}}},
  {"data":{"values":[{}]},"mark":{"type":"text","text":"g","fontSize":21,"fontStyle":"italic","align":"left","baseline":"alphabetic","color":"#000"},"encoding":{"x":{"datum":0.8967,"type":"quantitative"},"y":{"datum":-0.561,"type":"quantitative"}}},
  {"data":{"values":[{}]},"mark":{"type":"text","text":"c,V","fontSize":14,"fontStyle":"italic","align":"left","baseline":"alphabetic","color":"#000"},"encoding":{"x":{"datum":0.947,"type":"quantitative"},"y":{"datum":-0.658,"type":"quantitative"}}}
 ]},
{"width":400,"height":155,"view":{"fill":"#800080","stroke":"#c8c8c8","strokeWidth":1},
 "layer":[
  {"data":{"name":"histC"},"mark":{"type":"area","color":"#F98080","opacity":1,"fillOpacity":1,"line":{"color":"#2A1890","strokeWidth":1}},
   "encoding":{"x":{"field":"g","type":"quantitative","scale":{"domain":[0,2],"nice":false,"zero":false},"axis":{"values":[0,0.5,1,1.5,2],"tickCount":100,"format":"~g","labelExpr":"datum.value % 1 === 0 ? datum.label : ''","title":null,"labelPadding":3}},
    "y":{"field":"p","type":"quantitative","scale":{"domain":[0,20],"nice":false,"zero":false},"axis":{"values":[0,2,4,6,8,10,12,14,16,18,20],"tickCount":100,"format":"~g","labelExpr":"datum.value % 10 === 0 ? datum.label : ''","title":"Probability","titleFontSize":18,"titleX":-33,"titleY":86,"titleBaseline":"bottom","titleAngle":270,"titleAlign":"center","labelPadding":1}}}},
  {"data":{"name":"grC"},"mark":{"type":"line","color":"#2EE02E","strokeWidth":2.5},"encoding":{"x":{"field":"g","type":"quantitative"},"y":{"field":"p","type":"quantitative"}}},
  {"data":{"values":[{}]},"mark":{"type":"rule","color":"#2B8FE0","strokeWidth":2.5},"encoding":{"x":{"datum":0.031,"type":"quantitative"}}},
  {"data":{"values":[{}]},"mark":{"type":"text","text":"c.","fontSize":18,"fontWeight":"bold","align":"left","baseline":"alphabetic","color":"#000"},"encoding":{"x":{"datum":-0.2415,"type":"quantitative"},"y":{"datum":19.35,"type":"quantitative"}}},
  {"data":{"values":[{}]},"mark":{"type":"text","text":"g","fontSize":20,"fontStyle":"italic","align":"left","baseline":"alphabetic","color":"#3AA3DA"},"encoding":{"x":{"datum":-0.0265,"type":"quantitative"},"y":{"datum":21.03,"type":"quantitative"}}},
  {"data":{"values":[{}]},"mark":{"type":"text","text":"c,V","fontSize":13,"fontStyle":"italic","align":"left","baseline":"alphabetic","color":"#3AA3DA"},"encoding":{"x":{"datum":0.0285,"type":"quantitative"},"y":{"datum":20.52,"type":"quantitative"}}},
  {"data":{"values":[{}]},"mark":{"type":"text","text":"st","fontSize":13,"fontStyle":"italic","align":"left","baseline":"alphabetic","color":"#3AA3DA"},"encoding":{"x":{"datum":0.1085,"type":"quantitative"},"y":{"datum":21.81,"type":"quantitative"}}},
  {"data":{"values":[{}]},"mark":{"type":"text","text":"g","fontSize":21,"fontStyle":"italic","align":"left","baseline":"alphabetic","color":"#000"},"encoding":{"x":{"datum":0.8985,"type":"quantitative"},"y":{"datum":-3.78,"type":"quantitative"}}},
  {"data":{"values":[{}]},"mark":{"type":"text","text":"c,V","fontSize":14,"fontStyle":"italic","align":"left","baseline":"alphabetic","color":"#000"},"encoding":{"x":{"datum":0.9485,"type":"quantitative"},"y":{"datum":-4.43,"type":"quantitative"}}}
 ]},
{"width":1,"height":96.7,"data":{"values":[{}]},"mark":{"type":"text"},"encoding":{"text":{"value":""}}},
{"width":1,"height":96.7,"data":{"values":[{}]},"mark":{"type":"text"},"encoding":{"text":{"value":""}}},
{"width":397,"height":155,
 "layer":[
  {"data":{"name":"c12E"},"transform":[{"flatten":["t"]},{"lookup":"s","from":{"data":{"name":"n12"},"key":"id","fields":["x","y"]},"as":["x1","y1"]},{"lookup":"t","from":{"data":{"name":"n12"},"key":"id","fields":["x","y"]},"as":["x2","y2"]}],
   "mark":{"type":"rule","color":"#111","strokeWidth":2.2},
   "encoding":{"x":{"field":"x1","type":"quantitative","scale":{"domain":[-1.34649,2.13596],"nice":false,"zero":false},"axis":null},"y":{"field":"y1","type":"quantitative","scale":{"domain":[-0.6114,0.74825],"nice":false,"zero":false},"axis":null},"x2":{"field":"x2"},"y2":{"field":"y2"}}},
  {"data":{"name":"n12"},"mark":{"type":"point","shape":"circle","filled":true,"color":"#ffffff","size":2116,"strokeWidth":0,"opacity":1},
   "encoding":{"x":{"field":"x","type":"quantitative","scale":{"domain":[-1.34649,2.13596],"nice":false,"zero":false},"axis":null},"y":{"field":"y","type":"quantitative","scale":{"domain":[-0.6114,0.74825],"nice":false,"zero":false},"axis":null}}},
  {"data":{"name":"n12"},"mark":{"type":"point","shape":"circle","filled":true,"size":1260,"stroke":"#333","strokeWidth":2.5,"opacity":1},
   "encoding":{"x":{"field":"x","type":"quantitative","scale":{"domain":[-1.34649,2.13596],"nice":false,"zero":false},"axis":null},"y":{"field":"y","type":"quantitative","scale":{"domain":[-0.6114,0.74825],"nice":false,"zero":false},"axis":null},"fill":{"field":"c","type":"nominal","scale":{"domain":["pink","purple"],"range":["#F88080","#7A0A7A"]},"legend":null}}},
  {"data":{"values":[{"x":0,"y":0}]},"mark":{"type":"point","shape":"circle","filled":false,"size":51984,"stroke":"#dadada","strokeWidth":1.2,"opacity":1},
   "encoding":{"x":{"field":"x","type":"quantitative","scale":{"domain":[-1.34649,2.13596],"nice":false,"zero":false},"axis":null},"y":{"field":"y","type":"quantitative","scale":{"domain":[-0.6114,0.74825],"nice":false,"zero":false},"axis":null}}},
  {"data":{"values":[{}]},"mark":{"type":"text","text":"d.","fontSize":18,"fontWeight":"bold","align":"left","baseline":"alphabetic","color":"#000"},
   "encoding":{"x":{"datum":-1.2325,"type":"quantitative","scale":{"domain":[-1.34649,2.13596],"nice":false,"zero":false},"axis":null},"y":{"datum":0.9298,"type":"quantitative","scale":{"domain":[-0.6114,0.74825],"nice":false,"zero":false},"axis":null}}}
 ]},
{"width":400,"height":155,"view":{"fill":"#800080","stroke":"#c8c8c8","strokeWidth":1},
 "layer":[
  {"data":{"name":"histD"},"mark":{"type":"area","color":"#F98080","opacity":1,"fillOpacity":1,"line":{"color":"#2A1890","strokeWidth":1}},
   "encoding":{"x":{"field":"g","type":"quantitative","scale":{"domain":[0,2],"nice":false,"zero":false},"axis":{"values":[0,0.5,1,1.5,2],"tickCount":100,"format":"~g","labelExpr":"datum.value % 1 === 0 ? datum.label : ''","title":null,"labelPadding":3}},
    "y":{"field":"p","type":"quantitative","scale":{"domain":[0,20],"nice":false,"zero":false},"axis":{"values":[0,2,4,6,8,10,12,14,16,18,20],"tickCount":100,"format":"~g","labelExpr":"datum.value % 10 === 0 ? datum.label : ''","title":"Probability","titleFontSize":18,"titleX":-35,"titleY":85,"titleBaseline":"bottom","titleAngle":270,"titleAlign":"center","labelPadding":1}}}},
  {"data":{"name":"grD"},"mark":{"type":"line","color":"#2EE02E","strokeWidth":2.5},"encoding":{"x":{"field":"g","type":"quantitative"},"y":{"field":"p","type":"quantitative"}}},
  {"data":{"values":[{}]},"mark":{"type":"rule","color":"#2B8FE0","strokeWidth":2.5},"encoding":{"x":{"datum":0.09,"type":"quantitative"}}},
  {"data":{"values":[{}]},"mark":{"type":"text","text":"g","fontSize":20,"fontStyle":"italic","align":"left","baseline":"alphabetic","color":"#3AA3DA"},"encoding":{"x":{"datum":0.0485,"type":"quantitative"},"y":{"datum":21.77,"type":"quantitative"}}},
  {"data":{"values":[{}]},"mark":{"type":"text","text":"c,V","fontSize":13,"fontStyle":"italic","align":"left","baseline":"alphabetic","color":"#3AA3DA"},"encoding":{"x":{"datum":0.1085,"type":"quantitative"},"y":{"datum":21.12,"type":"quantitative"}}},
  {"data":{"values":[{}]},"mark":{"type":"text","text":"st","fontSize":13,"fontStyle":"italic","align":"left","baseline":"alphabetic","color":"#3AA3DA"},"encoding":{"x":{"datum":0.1935,"type":"quantitative"},"y":{"datum":22.41,"type":"quantitative"}}},
  {"data":{"values":[{}]},"mark":{"type":"text","text":"g","fontSize":21,"fontStyle":"italic","align":"left","baseline":"alphabetic","color":"#000"},"encoding":{"x":{"datum":0.9085,"type":"quantitative"},"y":{"datum":-3.78,"type":"quantitative"}}},
  {"data":{"values":[{}]},"mark":{"type":"text","text":"c,V","fontSize":14,"fontStyle":"italic","align":"left","baseline":"alphabetic","color":"#000"},"encoding":{"x":{"datum":0.9635,"type":"quantitative"},"y":{"datum":-4.43,"type":"quantitative"}}}
 ]}
],
"columns":2,
"align":{"row":"each","column":"none"},
"bounds":"flush",
"spacing":{"row":0,"column":61.3}
}
